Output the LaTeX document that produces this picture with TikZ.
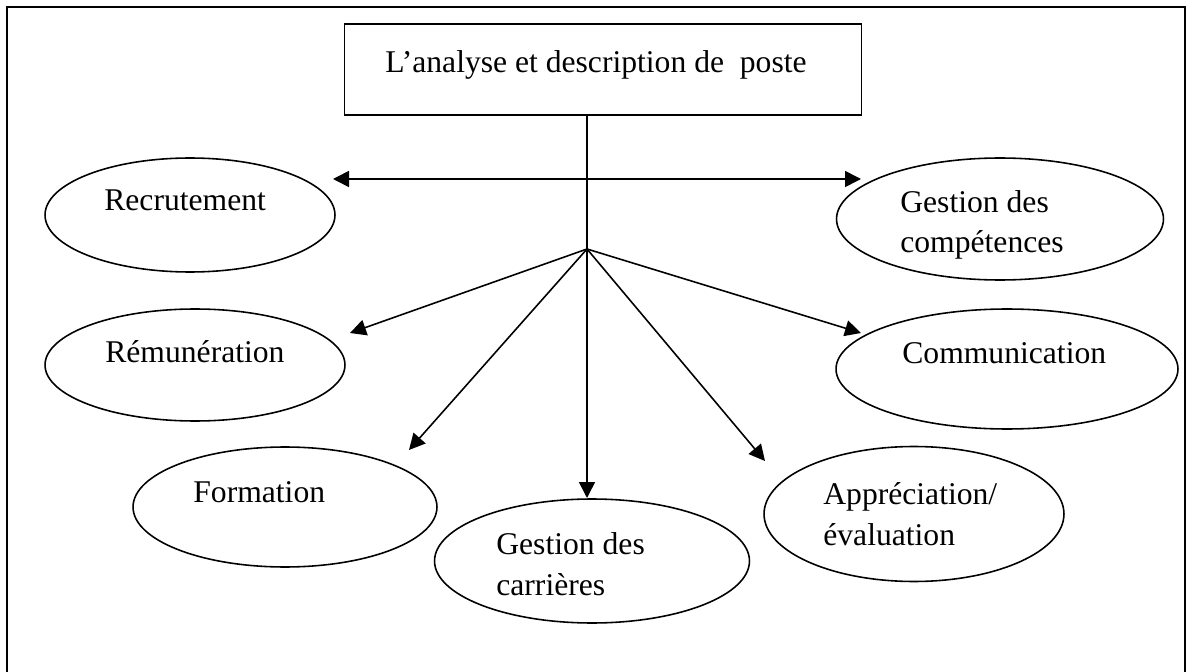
\documentclass[tikz,border=0pt]{standalone}
\usepackage{fontspec}
\setmainfont{Liberation Serif}
\usetikzlibrary{shapes.geometric,arrows.meta}
\begin{document}
\begin{tikzpicture}[x=0.02cm,y=-0.02cm,
    bulle/.style={draw,ellipse,line width=0.9pt,inner sep=0pt},
    txt/.style={anchor=base west,inner sep=0pt,align=left,font=\fontsize{18}{23.3}\selectfont},
    fl/.style={line width=0.9pt,-{Triangle[length=0.32cm,width=0.32cm]}}]
    \useasboundingbox (0,0) rectangle (1187,672);
    \draw[line width=1.3pt] (7,672) -- (7,7) -- (1185,7) -- (1185,672);
    % poste
    \node[draw,line width=1pt,anchor=north,minimum width=10.34cm,inner sep=0pt,text height=0.98cm,text depth=0.84cm,font=\fontsize{18}{23.3}\selectfont] (P) at (603,23) {L’analyse et description de\ \ poste\kern0.28cm};
    \coordinate (H) at (587,249);
    \draw[line width=0.9pt] (H |- P.south) -- (H);
    % ellipses
    \node[bulle,minimum width=5.8cm,minimum height=2.28cm] (R) at (190,215) {};
    \node[bulle,minimum width=6cm,minimum height=2.24cm] (M) at (195,365) {};
    \node[bulle,minimum width=6.08cm,minimum height=2.4cm] (F) at (285,507) {};
    \node[bulle,minimum width=6.3cm,minimum height=2.48cm] (C) at (592,561) {};
    \node[bulle,minimum width=6cm,minimum height=2.7cm] (A) at (914,514) {};
    \node[bulle,minimum width=6.54cm,minimum height=2.44cm] (G) at (1000,219) {};
    \node[bulle,minimum width=6.84cm,minimum height=2.4cm] (K) at (1007,369) {};
    % textes (base = derniere ligne)
    \node[txt] (tR) at (104,211) {Recrutement};
    \node[txt] (tM) at (105,362) {Rémunération};
    \node[txt] (tF) at (193,502) {Formation};
    \node[txt] (tC) at (496,595) {Gestion des\\carrières};
    \node[txt] (tA) at (823,545) {Appréciation/\\évaluation};
    \node[txt] (tG) at (900,253) {Gestion des\\compétences};
    \node[txt] (tK) at (902,363) {Communication};
    % fleches
    \coordinate (g) at (333,179);
    \coordinate (d) at (861,179);
    \coordinate (aM) at (350,333);
    \coordinate (aF) at (409,450);
    \coordinate (aC) at (587,498);
    \coordinate (aA) at (765,461);
    \coordinate (aK) at (861,333);
    \draw[fl,{Triangle[length=0.32cm,width=0.32cm]}-{Triangle[length=0.32cm,width=0.32cm]}] (g) -- (d);
    \foreach \a in {aM,aF,aC,aA,aK}
        \draw[fl] (H) -- (\a);
\end{tikzpicture}
\end{document}
